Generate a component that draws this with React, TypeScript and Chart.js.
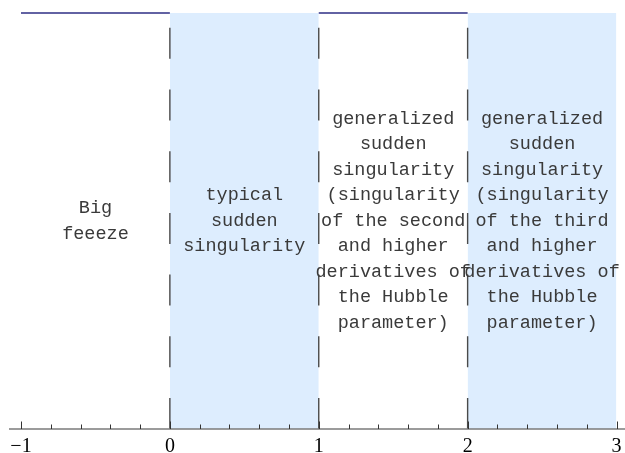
import React, { useEffect, useRef } from "react";
import { Chart, registerables } from "chart.js";

Chart.register(...registerables);

// x range and ticks
const xMin = -1;
const xMax = 3;
const majorTicks = [-1, 0, 1, 2, 3];
const majorTickLabels = ["\u22121", "0", "1", "2", "3"];
const minorTicks = [-0.8, -0.6, -0.4, -0.2, 0.2, 0.4, 0.6, 0.8, 1.2, 1.4, 1.6, 1.8, 2.2, 2.4, 2.6, 2.8];

// top boundary line segments (null = gap)
const topLineX = [-1, 0, null, 1, 2];
const topLineY = [1, 1, null, 1, 1];

// shaded bands [start, end] with height
const bands = [
  [0, 1],
  [2, 3],
];
const bandHeight = 1;

// dashed dividers
const dividers = [0, 1, 2];

// region labels
const regionCenters = [-0.5, 0.5, 1.5, 2.5];
const regionLabelY = 0.5;
const regionLabels = [
  ["Big", "feeeze"],
  ["typical", "sudden", "singularity"],
  ["generalized", "sudden", "singularity", "(singularity", "of the second", "and higher", "derivatives of", "the Hubble", "parameter)"],
  ["generalized", "sudden", "singularity", "(singularity", "of the third", "and higher", "derivatives of", "the Hubble", "parameter)"],
];

export default function App() {
  const ref = useRef<HTMLCanvasElement | null>(null);
  useEffect(() => {
    if (!ref.current) return;
    const datasets: any[] = [];
    bands.forEach((b) => {
      datasets.push({
        data: [
          { x: b[0], y: bandHeight },
          { x: b[1], y: bandHeight },
        ],
        borderWidth: 0,
        borderColor: "rgba(0,0,0,0)",
        backgroundColor: "#ddedfe",
        fill: "origin",
        pointRadius: 0,
        order: 3,
        clip: false,
      });
    });
    datasets.push({
      data: topLineX.map((x, i) => (x === null ? { x: 0.5, y: null } : { x, y: topLineY[i] })),
      borderColor: "#2f2f85",
      borderWidth: 1.5,
      pointRadius: 0,
      fill: false,
      spanGaps: false,
      order: 2,
      clip: false,
    });
    dividers.forEach((d) => {
      datasets.push({
        data: [
          { x: d, y: 0 },
          { x: d, y: 1 },
        ],
        borderColor: "#4a4a4a",
        borderWidth: 1.4,
        borderDash: [31, 30.7],
        pointRadius: 0,
        fill: false,
        order: 1,
        clip: false,
      });
    });

    const overlay = {
      id: "overlay",
      afterDraw(chart: any) {
        const ctx = chart.ctx;
        const xs = chart.scales.x;
        const ys = chart.scales.y;
        const y0 = ys.getPixelForValue(0);
        ctx.save();
        // axis line
        ctx.strokeStyle = "#7a7a7a";
        ctx.lineWidth = 1.3;
        ctx.beginPath();
        ctx.moveTo(9, y0);
        ctx.lineTo(chart.width, y0);
        ctx.stroke();
        // ticks
        ctx.strokeStyle = "#333";
        ctx.lineWidth = 1;
        majorTicks.forEach((t) => {
          const px = Math.round(xs.getPixelForValue(t)) + 0.5;
          ctx.beginPath();
          ctx.moveTo(px, y0);
          ctx.lineTo(px, y0 - 7.5);
          ctx.stroke();
        });
        minorTicks.forEach((t) => {
          const px = Math.round(xs.getPixelForValue(t)) + 0.5;
          ctx.beginPath();
          ctx.moveTo(px, y0);
          ctx.lineTo(px, y0 - 4.5);
          ctx.stroke();
        });
        // tick labels
        ctx.fillStyle = "#000";
        ctx.font = '20px "Liberation Serif", "Times New Roman", serif';
        ctx.textAlign = "center";
        ctx.textBaseline = "alphabetic";
        majorTicks.forEach((t, i) => {
          ctx.fillText(majorTickLabels[i], xs.getPixelForValue(t), y0 + 23);
        });
        // region labels
        ctx.fillStyle = "#3a3a3a";
        ctx.font = '18.5px "Liberation Mono", "Courier New", monospace';
        ctx.textBaseline = "middle";
        const lh = 25.5;
        regionLabels.forEach((lines, ci) => {
          const cx = xs.getPixelForValue(regionCenters[ci]);
          const cy = ys.getPixelForValue(regionLabelY);
          const startY = cy - ((lines.length - 1) * lh) / 2;
          lines.forEach((ln, li) => {
            ctx.fillText(ln, cx, startY + li * lh);
          });
        });
        ctx.restore();
      },
    };

    const chart = new Chart(ref.current, {
      type: "line",
      data: { datasets },
      options: {
        animation: false,
        responsive: false,
        parsing: false as any,
        layout: { padding: { left: 21, right: 8.5, top: 13, bottom: 24 } },
        plugins: { legend: { display: false }, tooltip: { enabled: false } },
        scales: {
          x: { type: "linear", min: xMin, max: xMax, display: false },
          y: { type: "linear", min: 0, max: 1, display: false },
        },
      },
      plugins: [overlay],
    });
    return () => chart.destroy();
  }, []);
  return (
    <div style={{ position: "absolute", left: 0, top: 0, width: 625, height: 453, background: "#fff" }}>
      <canvas ref={ref} width={625} height={453} />
    </div>
  );
}
